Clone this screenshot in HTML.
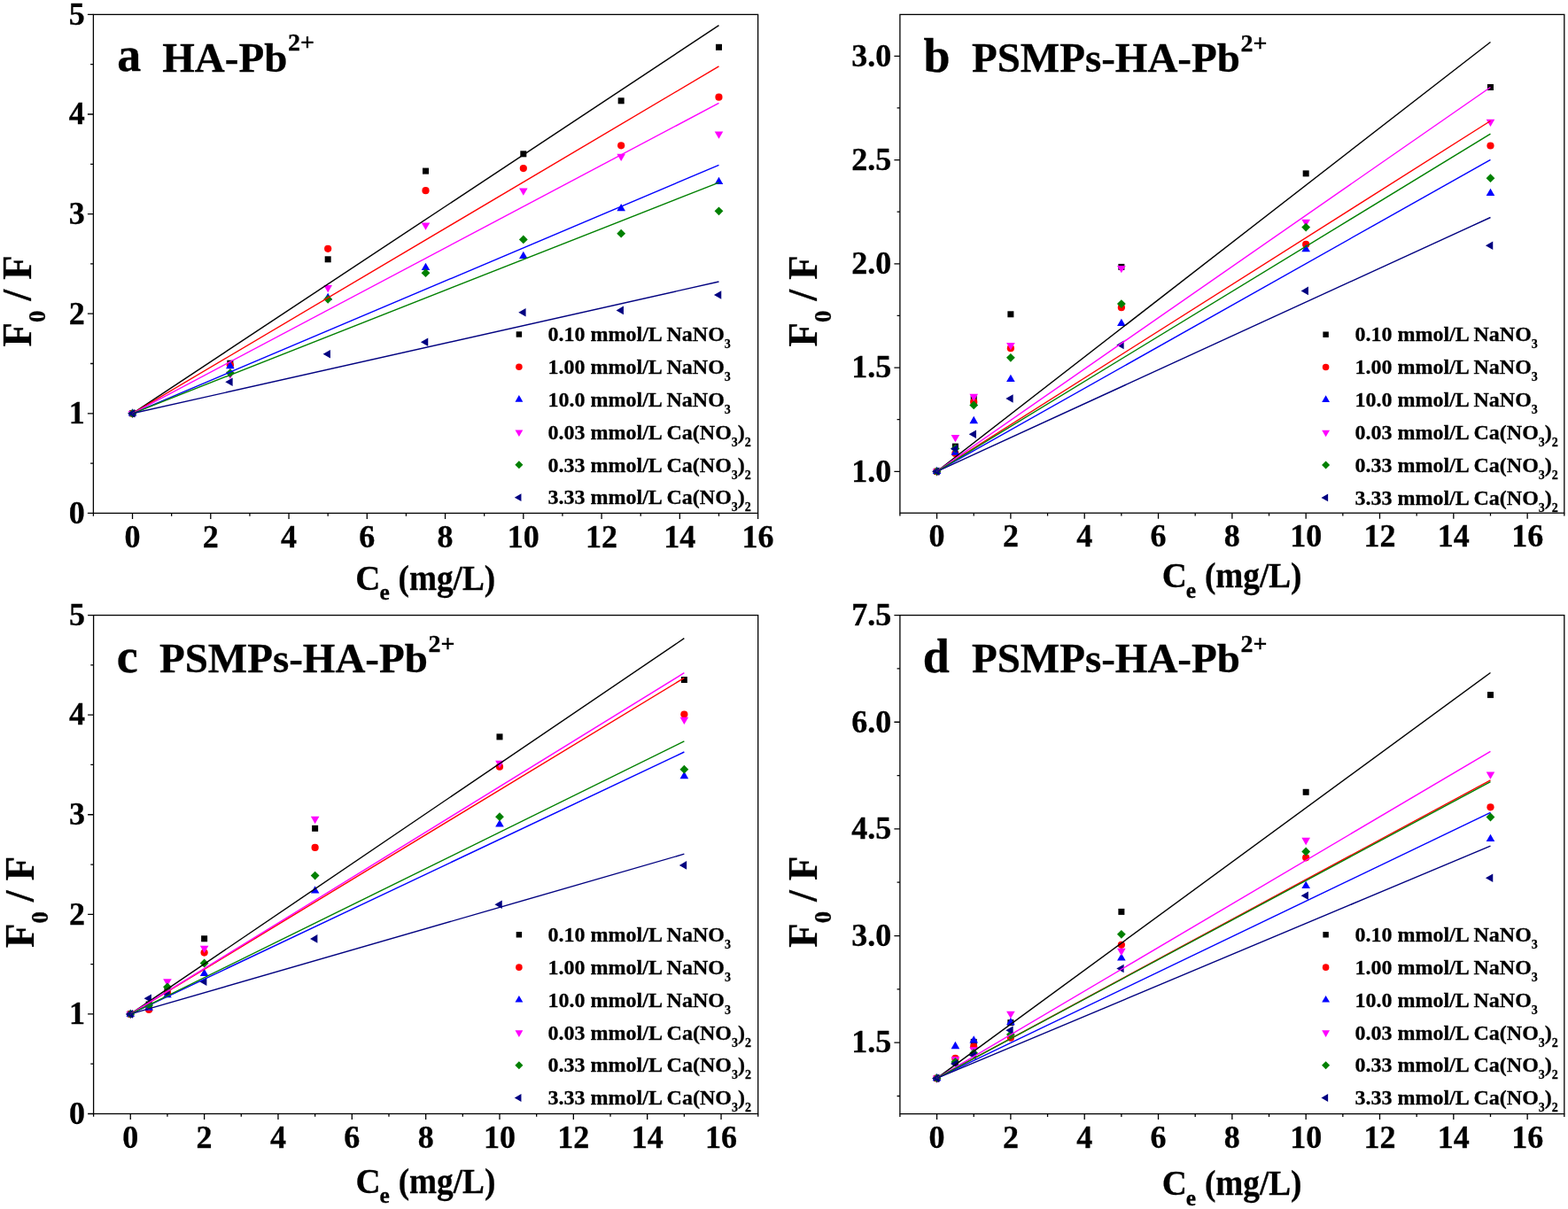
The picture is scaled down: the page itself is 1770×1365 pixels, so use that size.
<!DOCTYPE html>
<html><head><meta charset="utf-8"><title>F0/F vs Ce</title><style>
html,body{margin:0;padding:0;background:#fff;}
svg{display:block;}
text{font-family:"Liberation Serif", "Times New Roman", serif;font-weight:bold;fill:#000;stroke:#000;stroke-width:0.3px;}
.tk{font-size:36px;}
.xt{font-size:39px;}
.xs{font-size:25.5px;}
.yt{font-size:45px;}
.ys{font-size:26.5px;}
.pl{font-size:54px;}
.pt{font-size:47px;}
.sup{font-size:28px;}
.lg{font-size:24px;}
.ls{font-size:14px;}
</style></head>
<body><svg width="1770" height="1365" viewBox="0 0 1770 1365">
<rect width="1770" height="1365" fill="#fff"/>
<rect x="146.03" y="463.30" width="7.00" height="7.00" fill="#000000"/>
<rect x="256.35" y="406.70" width="7.00" height="7.00" fill="#000000"/>
<rect x="366.68" y="289.30" width="7.00" height="7.00" fill="#000000"/>
<rect x="477.00" y="189.60" width="7.00" height="7.00" fill="#000000"/>
<rect x="587.32" y="170.30" width="7.00" height="7.00" fill="#000000"/>
<rect x="697.65" y="110.30" width="7.00" height="7.00" fill="#000000"/>
<rect x="807.97" y="49.80" width="7.00" height="7.00" fill="#000000"/>
<circle cx="149.53" cy="466.80" r="4.10" fill="#FF0000"/>
<circle cx="259.85" cy="412.30" r="4.10" fill="#FF0000"/>
<circle cx="370.18" cy="280.80" r="4.10" fill="#FF0000"/>
<circle cx="480.50" cy="215.20" r="4.10" fill="#FF0000"/>
<circle cx="590.82" cy="190.10" r="4.10" fill="#FF0000"/>
<circle cx="701.15" cy="164.30" r="4.10" fill="#FF0000"/>
<circle cx="811.47" cy="109.70" r="4.10" fill="#FF0000"/>
<path d="M149.53 461.26L154.33 469.57L144.73 469.57Z" fill="#0000FF"/>
<path d="M259.85 407.86L264.65 416.17L255.05 416.17Z" fill="#0000FF"/>
<path d="M370.18 330.76L374.98 339.07L365.38 339.07Z" fill="#0000FF"/>
<path d="M480.50 296.76L485.30 305.07L475.70 305.07Z" fill="#0000FF"/>
<path d="M590.82 283.76L595.62 292.07L586.02 292.07Z" fill="#0000FF"/>
<path d="M701.15 229.96L705.95 238.27L696.35 238.27Z" fill="#0000FF"/>
<path d="M811.47 199.66L816.27 207.97L806.67 207.97Z" fill="#0000FF"/>
<path d="M149.53 472.34L154.33 464.03L144.73 464.03Z" fill="#FF00FF"/>
<path d="M259.85 428.04L264.65 419.73L255.05 419.73Z" fill="#FF00FF"/>
<path d="M370.18 330.34L374.98 322.03L365.38 322.03Z" fill="#FF00FF"/>
<path d="M480.50 259.74L485.30 251.43L475.70 251.43Z" fill="#FF00FF"/>
<path d="M590.82 220.84L595.62 212.53L586.02 212.53Z" fill="#FF00FF"/>
<path d="M701.15 181.94L705.95 173.63L696.35 173.63Z" fill="#FF00FF"/>
<path d="M811.47 156.74L816.27 148.43L806.67 148.43Z" fill="#FF00FF"/>
<path d="M149.53 461.90L154.43 466.80L149.53 471.70L144.63 466.80Z" fill="#008000"/>
<path d="M259.85 416.20L264.75 421.10L259.85 426.00L254.95 421.10Z" fill="#008000"/>
<path d="M370.18 332.90L375.08 337.80L370.18 342.70L365.28 337.80Z" fill="#008000"/>
<path d="M480.50 303.30L485.40 308.20L480.50 313.10L475.60 308.20Z" fill="#008000"/>
<path d="M590.82 265.50L595.72 270.40L590.82 275.30L585.92 270.40Z" fill="#008000"/>
<path d="M701.15 258.80L706.05 263.70L701.15 268.60L696.25 263.70Z" fill="#008000"/>
<path d="M811.47 233.40L816.37 238.30L811.47 243.20L806.57 238.30Z" fill="#008000"/>
<path d="M143.99 466.80L152.30 462.00L152.30 471.60Z" fill="#000080"/>
<path d="M254.31 431.30L262.62 426.50L262.62 436.10Z" fill="#000080"/>
<path d="M364.63 399.80L372.95 395.00L372.95 404.60Z" fill="#000080"/>
<path d="M474.96 386.30L483.27 381.50L483.27 391.10Z" fill="#000080"/>
<path d="M585.28 352.70L593.59 347.90L593.59 357.50Z" fill="#000080"/>
<path d="M695.60 350.40L703.92 345.60L703.92 355.20Z" fill="#000080"/>
<path d="M805.93 333.00L814.24 328.20L814.24 337.80Z" fill="#000080"/>
<line x1="149.53" y1="466.80" x2="811.47" y2="28.70" stroke="#000000" stroke-width="1.4"/>
<line x1="149.53" y1="466.80" x2="811.47" y2="74.90" stroke="#FF0000" stroke-width="1.4"/>
<line x1="149.53" y1="466.80" x2="811.47" y2="186.40" stroke="#0000FF" stroke-width="1.4"/>
<line x1="149.53" y1="466.80" x2="811.47" y2="116.40" stroke="#FF00FF" stroke-width="1.4"/>
<line x1="149.53" y1="466.80" x2="811.47" y2="206.10" stroke="#008000" stroke-width="1.4"/>
<line x1="149.53" y1="466.80" x2="811.47" y2="318.00" stroke="#000080" stroke-width="1.4"/>
<rect x="105.4" y="16.4" width="750.20" height="563.00" fill="none" stroke="#000" stroke-width="1.3"/>
<path d="M105.40 579.40v3.3M149.53 579.40v6.5M193.66 579.40v3.3M237.79 579.40v6.5M281.92 579.40v3.3M326.05 579.40v6.5M370.18 579.40v3.3M414.31 579.40v6.5M458.44 579.40v3.3M502.56 579.40v6.5M546.69 579.40v3.3M590.82 579.40v6.5M634.95 579.40v3.3M679.08 579.40v6.5M723.21 579.40v3.3M767.34 579.40v6.5M811.47 579.40v3.3M855.60 579.40v6.5M105.40 579.40h-6.5M105.40 466.80h-6.5M105.40 354.20h-6.5M105.40 241.60h-6.5M105.40 129.00h-6.5M105.40 16.40h-6.5M105.40 523.10h-3.3M105.40 410.50h-3.3M105.40 297.90h-3.3M105.40 185.30h-3.3M105.40 72.70h-3.3" stroke="#000" stroke-width="1.3" fill="none"/>
<text x="149.53" y="617.60" text-anchor="middle" class="tk">0</text>
<text x="237.79" y="617.60" text-anchor="middle" class="tk">2</text>
<text x="326.05" y="617.60" text-anchor="middle" class="tk">4</text>
<text x="414.31" y="617.60" text-anchor="middle" class="tk">6</text>
<text x="502.56" y="617.60" text-anchor="middle" class="tk">8</text>
<text x="590.82" y="617.60" text-anchor="middle" class="tk">10</text>
<text x="679.08" y="617.60" text-anchor="middle" class="tk">12</text>
<text x="767.34" y="617.60" text-anchor="middle" class="tk">14</text>
<text x="855.60" y="617.60" text-anchor="middle" class="tk">16</text>
<text x="95.80" y="590.70" text-anchor="end" class="tk">0</text>
<text x="95.80" y="478.10" text-anchor="end" class="tk">1</text>
<text x="95.80" y="365.50" text-anchor="end" class="tk">2</text>
<text x="95.80" y="252.90" text-anchor="end" class="tk">3</text>
<text x="95.80" y="140.30" text-anchor="end" class="tk">4</text>
<text x="95.80" y="27.70" text-anchor="end" class="tk">5</text>
<text x="401.30" y="666.1" class="xt">C</text>
<text x="428.40" y="676.8" class="xs">e</text>
<text x="449.55" y="666.1" class="xt" textLength="109.6" lengthAdjust="spacingAndGlyphs">(mg/L)</text>
<text transform="translate(34.7 391.6) rotate(-90) scale(1 1.035)" class="yt">F<tspan class="ys" dy="15.4">0</tspan><tspan dy="-15.4"> / F</tspan></text>
<text x="132.3" y="80.3" class="pl">a</text>
<text x="183.3" y="80.6" class="pt">HA-Pb<tspan class="sup" dx="0.6" dy="-23.3">2+</tspan></text>
<rect x="582.68" y="374.28" width="6.44" height="6.44" fill="#000000"/>
<text x="618.5" y="385.20" class="lg">0.10 mmol/L NaNO<tspan class="ls" dy="8">3</tspan></text>
<circle cx="585.90" cy="414.34" r="3.77" fill="#FF0000"/>
<text x="618.5" y="422.04" class="lg">1.00 mmol/L NaNO<tspan class="ls" dy="8">3</tspan></text>
<path d="M585.90 446.08L590.32 453.73L581.48 453.73Z" fill="#0000FF"/>
<text x="618.5" y="458.88" class="lg">10.0 mmol/L NaNO<tspan class="ls" dy="8">3</tspan></text>
<path d="M585.90 493.12L590.32 485.47L581.48 485.47Z" fill="#FF00FF"/>
<text x="618.5" y="495.72" class="lg">0.03 mmol/L Ca(NO<tspan class="ls" dy="8">3</tspan><tspan dy="-8">)</tspan><tspan class="ls" dy="8">2</tspan></text>
<path d="M585.90 520.35L590.41 524.86L585.90 529.37L581.39 524.86Z" fill="#008000"/>
<text x="618.5" y="532.56" class="lg">0.33 mmol/L Ca(NO<tspan class="ls" dy="8">3</tspan><tspan dy="-8">)</tspan><tspan class="ls" dy="8">2</tspan></text>
<path d="M580.80 561.70L588.45 557.28L588.45 566.12Z" fill="#000080"/>
<text x="618.5" y="569.40" class="lg">3.33 mmol/L Ca(NO<tspan class="ls" dy="8">3</tspan><tspan dy="-8">)</tspan><tspan class="ls" dy="8">2</tspan></text>
<rect x="1054.06" y="528.80" width="7.00" height="7.00" fill="#000000"/>
<rect x="1074.89" y="500.60" width="7.00" height="7.00" fill="#000000"/>
<rect x="1095.72" y="446.90" width="7.00" height="7.00" fill="#000000"/>
<rect x="1137.38" y="351.30" width="7.00" height="7.00" fill="#000000"/>
<rect x="1262.37" y="297.90" width="7.00" height="7.00" fill="#000000"/>
<rect x="1470.67" y="192.40" width="7.00" height="7.00" fill="#000000"/>
<rect x="1678.98" y="95.00" width="7.00" height="7.00" fill="#000000"/>
<circle cx="1057.56" cy="532.30" r="4.10" fill="#FF0000"/>
<circle cx="1078.39" cy="512.00" r="4.10" fill="#FF0000"/>
<circle cx="1099.22" cy="453.90" r="4.10" fill="#FF0000"/>
<circle cx="1140.88" cy="393.20" r="4.10" fill="#FF0000"/>
<circle cx="1265.87" cy="347.20" r="4.10" fill="#FF0000"/>
<circle cx="1474.17" cy="275.90" r="4.10" fill="#FF0000"/>
<circle cx="1682.48" cy="164.50" r="4.10" fill="#FF0000"/>
<path d="M1057.56 526.76L1062.36 535.07L1052.76 535.07Z" fill="#0000FF"/>
<path d="M1078.39 505.46L1083.19 513.77L1073.59 513.77Z" fill="#0000FF"/>
<path d="M1099.22 469.86L1104.02 478.17L1094.42 478.17Z" fill="#0000FF"/>
<path d="M1140.88 422.66L1145.68 430.97L1136.08 430.97Z" fill="#0000FF"/>
<path d="M1265.87 359.66L1270.67 367.97L1261.07 367.97Z" fill="#0000FF"/>
<path d="M1474.17 275.96L1478.97 284.27L1469.37 284.27Z" fill="#0000FF"/>
<path d="M1682.48 212.76L1687.28 221.07L1677.68 221.07Z" fill="#0000FF"/>
<path d="M1057.56 537.84L1062.36 529.53L1052.76 529.53Z" fill="#FF00FF"/>
<path d="M1078.39 499.24L1083.19 490.93L1073.59 490.93Z" fill="#FF00FF"/>
<path d="M1099.22 453.14L1104.02 444.83L1094.42 444.83Z" fill="#FF00FF"/>
<path d="M1140.88 395.34L1145.68 387.03L1136.08 387.03Z" fill="#FF00FF"/>
<path d="M1265.87 308.24L1270.67 299.93L1261.07 299.93Z" fill="#FF00FF"/>
<path d="M1474.17 256.04L1478.97 247.73L1469.37 247.73Z" fill="#FF00FF"/>
<path d="M1682.48 143.04L1687.28 134.73L1677.68 134.73Z" fill="#FF00FF"/>
<path d="M1057.56 527.40L1062.46 532.30L1057.56 537.20L1052.66 532.30Z" fill="#008000"/>
<path d="M1078.39 501.50L1083.29 506.40L1078.39 511.30L1073.49 506.40Z" fill="#008000"/>
<path d="M1099.22 452.50L1104.12 457.40L1099.22 462.30L1094.32 457.40Z" fill="#008000"/>
<path d="M1140.88 398.90L1145.78 403.80L1140.88 408.70L1135.98 403.80Z" fill="#008000"/>
<path d="M1265.87 338.20L1270.77 343.10L1265.87 348.00L1260.97 343.10Z" fill="#008000"/>
<path d="M1474.17 251.70L1479.07 256.60L1474.17 261.50L1469.27 256.60Z" fill="#008000"/>
<path d="M1682.48 196.30L1687.38 201.20L1682.48 206.10L1677.58 201.20Z" fill="#008000"/>
<path d="M1052.02 532.30L1060.33 527.50L1060.33 537.10Z" fill="#000080"/>
<path d="M1072.85 506.70L1081.16 501.90L1081.16 511.50Z" fill="#000080"/>
<path d="M1093.68 490.20L1101.99 485.40L1101.99 495.00Z" fill="#000080"/>
<path d="M1135.34 450.00L1143.65 445.20L1143.65 454.80Z" fill="#000080"/>
<path d="M1260.32 389.40L1268.64 384.60L1268.64 394.20Z" fill="#000080"/>
<path d="M1468.63 328.40L1476.94 323.60L1476.94 333.20Z" fill="#000080"/>
<path d="M1676.94 277.30L1685.25 272.50L1685.25 282.10Z" fill="#000080"/>
<line x1="1057.56" y1="532.30" x2="1682.48" y2="47.50" stroke="#000000" stroke-width="1.4"/>
<line x1="1057.56" y1="532.30" x2="1682.48" y2="136.50" stroke="#FF0000" stroke-width="1.4"/>
<line x1="1057.56" y1="532.30" x2="1682.48" y2="180.30" stroke="#0000FF" stroke-width="1.4"/>
<line x1="1057.56" y1="532.30" x2="1682.48" y2="98.50" stroke="#FF00FF" stroke-width="1.4"/>
<line x1="1057.56" y1="532.30" x2="1682.48" y2="151.20" stroke="#008000" stroke-width="1.4"/>
<line x1="1057.56" y1="532.30" x2="1682.48" y2="245.50" stroke="#000080" stroke-width="1.4"/>
<rect x="1015.9" y="16.4" width="749.90" height="562.80" fill="none" stroke="#000" stroke-width="1.3"/>
<path d="M1015.90 579.20v3.3M1057.56 579.20v6.5M1099.22 579.20v3.3M1140.88 579.20v6.5M1182.54 579.20v3.3M1224.21 579.20v6.5M1265.87 579.20v3.3M1307.53 579.20v6.5M1349.19 579.20v3.3M1390.85 579.20v6.5M1432.51 579.20v3.3M1474.17 579.20v6.5M1515.83 579.20v3.3M1557.49 579.20v6.5M1599.16 579.20v3.3M1640.82 579.20v6.5M1682.48 579.20v3.3M1724.14 579.20v6.5M1765.80 579.20v3.3M1015.90 532.30h-6.5M1015.90 415.05h-6.5M1015.90 297.80h-6.5M1015.90 180.55h-6.5M1015.90 63.30h-6.5M1015.90 473.68h-3.3M1015.90 356.43h-3.3M1015.90 239.18h-3.3M1015.90 121.93h-3.3" stroke="#000" stroke-width="1.3" fill="none"/>
<text x="1057.56" y="617.40" text-anchor="middle" class="tk">0</text>
<text x="1140.88" y="617.40" text-anchor="middle" class="tk">2</text>
<text x="1224.21" y="617.40" text-anchor="middle" class="tk">4</text>
<text x="1307.53" y="617.40" text-anchor="middle" class="tk">6</text>
<text x="1390.85" y="617.40" text-anchor="middle" class="tk">8</text>
<text x="1474.17" y="617.40" text-anchor="middle" class="tk">10</text>
<text x="1557.49" y="617.40" text-anchor="middle" class="tk">12</text>
<text x="1640.82" y="617.40" text-anchor="middle" class="tk">14</text>
<text x="1724.14" y="617.40" text-anchor="middle" class="tk">16</text>
<text x="1006.30" y="543.60" text-anchor="end" class="tk">1.0</text>
<text x="1006.30" y="426.35" text-anchor="end" class="tk">1.5</text>
<text x="1006.30" y="309.10" text-anchor="end" class="tk">2.0</text>
<text x="1006.30" y="191.85" text-anchor="end" class="tk">2.5</text>
<text x="1006.30" y="74.60" text-anchor="end" class="tk">3.0</text>
<text x="1311.65" y="663.3" class="xt">C</text>
<text x="1338.75" y="674.6" class="xs">e</text>
<text x="1359.90" y="663.3" class="xt" textLength="109.6" lengthAdjust="spacingAndGlyphs">(mg/L)</text>
<text transform="translate(921.6 391.5) rotate(-90) scale(1 1.035)" class="yt">F<tspan class="ys" dy="15.4">0</tspan><tspan dy="-15.4"> / F</tspan></text>
<text x="1042.4" y="80.8" class="pl">b</text>
<text x="1097.0" y="80.8" class="pt">PSMPs-HA-Pb<tspan class="sup" dx="0.6" dy="-23.3">2+</tspan></text>
<rect x="1493.38" y="374.48" width="6.44" height="6.44" fill="#000000"/>
<text x="1529.5" y="385.40" class="lg">0.10 mmol/L NaNO<tspan class="ls" dy="8">3</tspan></text>
<circle cx="1496.60" cy="414.54" r="3.77" fill="#FF0000"/>
<text x="1529.5" y="422.24" class="lg">1.00 mmol/L NaNO<tspan class="ls" dy="8">3</tspan></text>
<path d="M1496.60 446.28L1501.02 453.93L1492.18 453.93Z" fill="#0000FF"/>
<text x="1529.5" y="459.08" class="lg">10.0 mmol/L NaNO<tspan class="ls" dy="8">3</tspan></text>
<path d="M1496.60 493.32L1501.02 485.67L1492.18 485.67Z" fill="#FF00FF"/>
<text x="1529.5" y="495.92" class="lg">0.03 mmol/L Ca(NO<tspan class="ls" dy="8">3</tspan><tspan dy="-8">)</tspan><tspan class="ls" dy="8">2</tspan></text>
<path d="M1496.60 520.55L1501.11 525.06L1496.60 529.57L1492.09 525.06Z" fill="#008000"/>
<text x="1529.5" y="532.76" class="lg">0.33 mmol/L Ca(NO<tspan class="ls" dy="8">3</tspan><tspan dy="-8">)</tspan><tspan class="ls" dy="8">2</tspan></text>
<path d="M1491.50 561.90L1499.15 557.48L1499.15 566.32Z" fill="#000080"/>
<text x="1529.5" y="569.60" class="lg">3.33 mmol/L Ca(NO<tspan class="ls" dy="8">3</tspan><tspan dy="-8">)</tspan><tspan class="ls" dy="8">2</tspan></text>
<rect x="143.77" y="1141.42" width="7.00" height="7.00" fill="#000000"/>
<rect x="164.61" y="1130.50" width="7.00" height="7.00" fill="#000000"/>
<rect x="185.44" y="1115.50" width="7.00" height="7.00" fill="#000000"/>
<rect x="227.12" y="1056.30" width="7.00" height="7.00" fill="#000000"/>
<rect x="352.13" y="931.80" width="7.00" height="7.00" fill="#000000"/>
<rect x="560.49" y="828.40" width="7.00" height="7.00" fill="#000000"/>
<rect x="768.86" y="764.00" width="7.00" height="7.00" fill="#000000"/>
<circle cx="147.27" cy="1144.92" r="4.10" fill="#FF0000"/>
<circle cx="168.11" cy="1139.90" r="4.10" fill="#FF0000"/>
<circle cx="188.94" cy="1121.00" r="4.10" fill="#FF0000"/>
<circle cx="230.62" cy="1075.60" r="4.10" fill="#FF0000"/>
<circle cx="355.63" cy="956.90" r="4.10" fill="#FF0000"/>
<circle cx="563.99" cy="865.70" r="4.10" fill="#FF0000"/>
<circle cx="772.36" cy="806.50" r="4.10" fill="#FF0000"/>
<path d="M147.27 1139.38L152.07 1147.69L142.47 1147.69Z" fill="#0000FF"/>
<path d="M168.11 1132.56L172.91 1140.87L163.31 1140.87Z" fill="#0000FF"/>
<path d="M188.94 1117.96L193.74 1126.27L184.14 1126.27Z" fill="#0000FF"/>
<path d="M230.62 1093.66L235.42 1101.97L225.82 1101.97Z" fill="#0000FF"/>
<path d="M355.63 1000.16L360.43 1008.47L350.83 1008.47Z" fill="#0000FF"/>
<path d="M563.99 925.16L568.79 933.47L559.19 933.47Z" fill="#0000FF"/>
<path d="M772.36 870.86L777.16 879.17L767.56 879.17Z" fill="#0000FF"/>
<path d="M147.27 1150.46L152.07 1142.15L142.47 1142.15Z" fill="#FF00FF"/>
<path d="M168.11 1141.04L172.91 1132.73L163.31 1132.73Z" fill="#FF00FF"/>
<path d="M188.94 1113.44L193.74 1105.13L184.14 1105.13Z" fill="#FF00FF"/>
<path d="M230.62 1075.94L235.42 1067.63L225.82 1067.63Z" fill="#FF00FF"/>
<path d="M355.63 930.14L360.43 921.83L350.83 921.83Z" fill="#FF00FF"/>
<path d="M563.99 867.14L568.79 858.83L559.19 858.83Z" fill="#FF00FF"/>
<path d="M772.36 818.04L777.16 809.73L767.56 809.73Z" fill="#FF00FF"/>
<path d="M147.27 1140.02L152.17 1144.92L147.27 1149.82L142.37 1144.92Z" fill="#008000"/>
<path d="M168.11 1130.10L173.01 1135.00L168.11 1139.90L163.21 1135.00Z" fill="#008000"/>
<path d="M188.94 1109.40L193.84 1114.30L188.94 1119.20L184.04 1114.30Z" fill="#008000"/>
<path d="M230.62 1082.60L235.52 1087.50L230.62 1092.40L225.72 1087.50Z" fill="#008000"/>
<path d="M355.63 983.70L360.53 988.60L355.63 993.50L350.73 988.60Z" fill="#008000"/>
<path d="M563.99 917.30L568.89 922.20L563.99 927.10L559.09 922.20Z" fill="#008000"/>
<path d="M772.36 863.80L777.26 868.70L772.36 873.60L767.46 868.70Z" fill="#008000"/>
<path d="M141.73 1144.92L150.04 1140.12L150.04 1149.72Z" fill="#000080"/>
<path d="M162.57 1127.20L170.88 1122.40L170.88 1132.00Z" fill="#000080"/>
<path d="M183.40 1121.50L191.72 1116.70L191.72 1126.30Z" fill="#000080"/>
<path d="M225.07 1108.20L233.39 1103.40L233.39 1113.00Z" fill="#000080"/>
<path d="M350.09 1059.90L358.40 1055.10L358.40 1064.70Z" fill="#000080"/>
<path d="M558.45 1021.20L566.77 1016.40L566.77 1026.00Z" fill="#000080"/>
<path d="M766.81 976.90L775.13 972.10L775.13 981.70Z" fill="#000080"/>
<line x1="147.27" y1="1144.92" x2="772.36" y2="720.70" stroke="#000000" stroke-width="1.4"/>
<line x1="147.27" y1="1144.92" x2="772.36" y2="765.40" stroke="#FF0000" stroke-width="1.4"/>
<line x1="147.27" y1="1144.92" x2="772.36" y2="849.00" stroke="#0000FF" stroke-width="1.4"/>
<line x1="147.27" y1="1144.92" x2="772.36" y2="759.70" stroke="#FF00FF" stroke-width="1.4"/>
<line x1="147.27" y1="1144.92" x2="772.36" y2="836.90" stroke="#008000" stroke-width="1.4"/>
<line x1="147.27" y1="1144.92" x2="772.36" y2="964.20" stroke="#000080" stroke-width="1.4"/>
<rect x="105.6" y="694.6" width="750.10" height="562.90" fill="none" stroke="#000" stroke-width="1.3"/>
<path d="M105.60 1257.50v3.3M147.27 1257.50v6.5M188.94 1257.50v3.3M230.62 1257.50v6.5M272.29 1257.50v3.3M313.96 1257.50v6.5M355.63 1257.50v3.3M397.31 1257.50v6.5M438.98 1257.50v3.3M480.65 1257.50v6.5M522.32 1257.50v3.3M563.99 1257.50v6.5M605.67 1257.50v3.3M647.34 1257.50v6.5M689.01 1257.50v3.3M730.68 1257.50v6.5M772.36 1257.50v3.3M814.03 1257.50v6.5M855.70 1257.50v3.3M105.60 1257.50h-6.5M105.60 1144.92h-6.5M105.60 1032.34h-6.5M105.60 919.76h-6.5M105.60 807.18h-6.5M105.60 694.60h-6.5M105.60 1201.21h-3.3M105.60 1088.63h-3.3M105.60 976.05h-3.3M105.60 863.47h-3.3M105.60 750.89h-3.3" stroke="#000" stroke-width="1.3" fill="none"/>
<text x="147.27" y="1295.70" text-anchor="middle" class="tk">0</text>
<text x="230.62" y="1295.70" text-anchor="middle" class="tk">2</text>
<text x="313.96" y="1295.70" text-anchor="middle" class="tk">4</text>
<text x="397.31" y="1295.70" text-anchor="middle" class="tk">6</text>
<text x="480.65" y="1295.70" text-anchor="middle" class="tk">8</text>
<text x="563.99" y="1295.70" text-anchor="middle" class="tk">10</text>
<text x="647.34" y="1295.70" text-anchor="middle" class="tk">12</text>
<text x="730.68" y="1295.70" text-anchor="middle" class="tk">14</text>
<text x="814.03" y="1295.70" text-anchor="middle" class="tk">16</text>
<text x="96.00" y="1268.80" text-anchor="end" class="tk">0</text>
<text x="96.00" y="1156.22" text-anchor="end" class="tk">1</text>
<text x="96.00" y="1043.64" text-anchor="end" class="tk">2</text>
<text x="96.00" y="931.06" text-anchor="end" class="tk">3</text>
<text x="96.00" y="818.48" text-anchor="end" class="tk">4</text>
<text x="96.00" y="705.90" text-anchor="end" class="tk">5</text>
<text x="401.45" y="1347.1" class="xt">C</text>
<text x="428.55" y="1358.1" class="xs">e</text>
<text x="449.70" y="1347.1" class="xt" textLength="109.6" lengthAdjust="spacingAndGlyphs">(mg/L)</text>
<text transform="translate(38.0 1069.9) rotate(-90) scale(1 1.035)" class="yt">F<tspan class="ys" dy="15.4">0</tspan><tspan dy="-15.4"> / F</tspan></text>
<text x="131.75" y="759.2" class="pl">c</text>
<text x="180.0" y="758.8" class="pt">PSMPs-HA-Pb<tspan class="sup" dx="0.6" dy="-23.3">2+</tspan></text>
<rect x="582.68" y="1052.08" width="6.44" height="6.44" fill="#000000"/>
<text x="618.6" y="1063.00" class="lg">0.10 mmol/L NaNO<tspan class="ls" dy="8">3</tspan></text>
<circle cx="585.90" cy="1092.14" r="3.77" fill="#FF0000"/>
<text x="618.6" y="1099.84" class="lg">1.00 mmol/L NaNO<tspan class="ls" dy="8">3</tspan></text>
<path d="M585.90 1123.88L590.32 1131.53L581.48 1131.53Z" fill="#0000FF"/>
<text x="618.6" y="1136.68" class="lg">10.0 mmol/L NaNO<tspan class="ls" dy="8">3</tspan></text>
<path d="M585.90 1170.92L590.32 1163.27L581.48 1163.27Z" fill="#FF00FF"/>
<text x="618.6" y="1173.52" class="lg">0.03 mmol/L Ca(NO<tspan class="ls" dy="8">3</tspan><tspan dy="-8">)</tspan><tspan class="ls" dy="8">2</tspan></text>
<path d="M585.90 1198.15L590.41 1202.66L585.90 1207.17L581.39 1202.66Z" fill="#008000"/>
<text x="618.6" y="1210.36" class="lg">0.33 mmol/L Ca(NO<tspan class="ls" dy="8">3</tspan><tspan dy="-8">)</tspan><tspan class="ls" dy="8">2</tspan></text>
<path d="M580.80 1239.50L588.45 1235.08L588.45 1243.92Z" fill="#000080"/>
<text x="618.6" y="1247.20" class="lg">3.33 mmol/L Ca(NO<tspan class="ls" dy="8">3</tspan><tspan dy="-8">)</tspan><tspan class="ls" dy="8">2</tspan></text>
<rect x="1054.06" y="1213.89" width="7.00" height="7.00" fill="#000000"/>
<rect x="1074.89" y="1195.50" width="7.00" height="7.00" fill="#000000"/>
<rect x="1095.72" y="1172.90" width="7.00" height="7.00" fill="#000000"/>
<rect x="1137.38" y="1151.10" width="7.00" height="7.00" fill="#000000"/>
<rect x="1262.37" y="1025.90" width="7.00" height="7.00" fill="#000000"/>
<rect x="1470.67" y="890.80" width="7.00" height="7.00" fill="#000000"/>
<rect x="1678.98" y="781.10" width="7.00" height="7.00" fill="#000000"/>
<circle cx="1057.56" cy="1217.39" r="4.10" fill="#FF0000"/>
<circle cx="1078.39" cy="1194.90" r="4.10" fill="#FF0000"/>
<circle cx="1099.22" cy="1181.70" r="4.10" fill="#FF0000"/>
<circle cx="1140.88" cy="1171.70" r="4.10" fill="#FF0000"/>
<circle cx="1265.87" cy="1066.80" r="4.10" fill="#FF0000"/>
<circle cx="1474.17" cy="968.30" r="4.10" fill="#FF0000"/>
<circle cx="1682.48" cy="911.30" r="4.10" fill="#FF0000"/>
<path d="M1057.56 1211.84L1062.36 1220.16L1052.76 1220.16Z" fill="#0000FF"/>
<path d="M1078.39 1175.86L1083.19 1184.17L1073.59 1184.17Z" fill="#0000FF"/>
<path d="M1099.22 1169.26L1104.02 1177.57L1094.42 1177.57Z" fill="#0000FF"/>
<path d="M1140.88 1148.86L1145.68 1157.17L1136.08 1157.17Z" fill="#0000FF"/>
<path d="M1265.87 1076.26L1270.67 1084.57L1261.07 1084.57Z" fill="#0000FF"/>
<path d="M1474.17 994.76L1478.97 1003.07L1469.37 1003.07Z" fill="#0000FF"/>
<path d="M1682.48 941.76L1687.28 950.07L1677.68 950.07Z" fill="#0000FF"/>
<path d="M1057.56 1222.93L1062.36 1214.61L1052.76 1214.61Z" fill="#FF00FF"/>
<path d="M1078.39 1201.34L1083.19 1193.03L1073.59 1193.03Z" fill="#FF00FF"/>
<path d="M1099.22 1190.64L1104.02 1182.33L1094.42 1182.33Z" fill="#FF00FF"/>
<path d="M1140.88 1149.94L1145.68 1141.63L1136.08 1141.63Z" fill="#FF00FF"/>
<path d="M1265.87 1079.14L1270.67 1070.83L1261.07 1070.83Z" fill="#FF00FF"/>
<path d="M1474.17 954.14L1478.97 945.83L1469.37 945.83Z" fill="#FF00FF"/>
<path d="M1682.48 879.74L1687.28 871.43L1677.68 871.43Z" fill="#FF00FF"/>
<path d="M1057.56 1212.49L1062.46 1217.39L1057.56 1222.29L1052.66 1217.39Z" fill="#008000"/>
<path d="M1078.39 1194.00L1083.29 1198.90L1078.39 1203.80L1073.49 1198.90Z" fill="#008000"/>
<path d="M1099.22 1184.10L1104.12 1189.00L1099.22 1193.90L1094.32 1189.00Z" fill="#008000"/>
<path d="M1140.88 1163.10L1145.78 1168.00L1140.88 1172.90L1135.98 1168.00Z" fill="#008000"/>
<path d="M1265.87 1049.90L1270.77 1054.80L1265.87 1059.70L1260.97 1054.80Z" fill="#008000"/>
<path d="M1474.17 956.60L1479.07 961.50L1474.17 966.40L1469.27 961.50Z" fill="#008000"/>
<path d="M1682.48 917.60L1687.38 922.50L1682.48 927.40L1677.58 922.50Z" fill="#008000"/>
<path d="M1052.02 1217.39L1060.33 1212.59L1060.33 1222.19Z" fill="#000080"/>
<path d="M1072.85 1201.00L1081.16 1196.20L1081.16 1205.80Z" fill="#000080"/>
<path d="M1093.68 1191.50L1101.99 1186.70L1101.99 1196.30Z" fill="#000080"/>
<path d="M1135.34 1163.30L1143.65 1158.50L1143.65 1168.10Z" fill="#000080"/>
<path d="M1260.32 1093.50L1268.64 1088.70L1268.64 1098.30Z" fill="#000080"/>
<path d="M1468.63 1011.30L1476.94 1006.50L1476.94 1016.10Z" fill="#000080"/>
<path d="M1676.94 991.20L1685.25 986.40L1685.25 996.00Z" fill="#000080"/>
<line x1="1057.56" y1="1217.39" x2="1682.48" y2="759.50" stroke="#000000" stroke-width="1.4"/>
<line x1="1057.56" y1="1217.39" x2="1682.48" y2="880.90" stroke="#FF0000" stroke-width="1.4"/>
<line x1="1057.56" y1="1217.39" x2="1682.48" y2="917.40" stroke="#0000FF" stroke-width="1.4"/>
<line x1="1057.56" y1="1217.39" x2="1682.48" y2="848.30" stroke="#FF00FF" stroke-width="1.4"/>
<line x1="1057.56" y1="1217.39" x2="1682.48" y2="882.60" stroke="#008000" stroke-width="1.4"/>
<line x1="1057.56" y1="1217.39" x2="1682.48" y2="955.10" stroke="#000080" stroke-width="1.4"/>
<rect x="1015.9" y="694.6" width="749.90" height="563.00" fill="none" stroke="#000" stroke-width="1.3"/>
<path d="M1015.90 1257.60v3.3M1057.56 1257.60v6.5M1099.22 1257.60v3.3M1140.88 1257.60v6.5M1182.54 1257.60v3.3M1224.21 1257.60v6.5M1265.87 1257.60v3.3M1307.53 1257.60v6.5M1349.19 1257.60v3.3M1390.85 1257.60v6.5M1432.51 1257.60v3.3M1474.17 1257.60v6.5M1515.83 1257.60v3.3M1557.49 1257.60v6.5M1599.16 1257.60v3.3M1640.82 1257.60v6.5M1682.48 1257.60v3.3M1724.14 1257.60v6.5M1765.80 1257.60v3.3M1015.90 1177.17h-6.5M1015.90 1056.53h-6.5M1015.90 935.89h-6.5M1015.90 815.24h-6.5M1015.90 694.60h-6.5M1015.90 1237.49h-3.3M1015.90 1116.85h-3.3M1015.90 996.21h-3.3M1015.90 875.56h-3.3M1015.90 754.92h-3.3" stroke="#000" stroke-width="1.3" fill="none"/>
<text x="1057.56" y="1295.80" text-anchor="middle" class="tk">0</text>
<text x="1140.88" y="1295.80" text-anchor="middle" class="tk">2</text>
<text x="1224.21" y="1295.80" text-anchor="middle" class="tk">4</text>
<text x="1307.53" y="1295.80" text-anchor="middle" class="tk">6</text>
<text x="1390.85" y="1295.80" text-anchor="middle" class="tk">8</text>
<text x="1474.17" y="1295.80" text-anchor="middle" class="tk">10</text>
<text x="1557.49" y="1295.80" text-anchor="middle" class="tk">12</text>
<text x="1640.82" y="1295.80" text-anchor="middle" class="tk">14</text>
<text x="1724.14" y="1295.80" text-anchor="middle" class="tk">16</text>
<text x="1006.30" y="1188.47" text-anchor="end" class="tk">1.5</text>
<text x="1006.30" y="1067.83" text-anchor="end" class="tk">3.0</text>
<text x="1006.30" y="947.19" text-anchor="end" class="tk">4.5</text>
<text x="1006.30" y="826.54" text-anchor="end" class="tk">6.0</text>
<text x="1006.30" y="705.90" text-anchor="end" class="tk">7.5</text>
<text x="1311.65" y="1349.3" class="xt">C</text>
<text x="1338.75" y="1360.6" class="xs">e</text>
<text x="1359.90" y="1349.3" class="xt" textLength="109.6" lengthAdjust="spacingAndGlyphs">(mg/L)</text>
<text transform="translate(921.6 1069.7) rotate(-90) scale(1 1.035)" class="yt">F<tspan class="ys" dy="15.4">0</tspan><tspan dy="-15.4"> / F</tspan></text>
<text x="1041.8" y="759.2" class="pl">d</text>
<text x="1097.0" y="758.8" class="pt">PSMPs-HA-Pb<tspan class="sup" dx="0.6" dy="-23.3">2+</tspan></text>
<rect x="1493.38" y="1052.08" width="6.44" height="6.44" fill="#000000"/>
<text x="1529.5" y="1063.00" class="lg">0.10 mmol/L NaNO<tspan class="ls" dy="8">3</tspan></text>
<circle cx="1496.60" cy="1092.14" r="3.77" fill="#FF0000"/>
<text x="1529.5" y="1099.84" class="lg">1.00 mmol/L NaNO<tspan class="ls" dy="8">3</tspan></text>
<path d="M1496.60 1123.88L1501.02 1131.53L1492.18 1131.53Z" fill="#0000FF"/>
<text x="1529.5" y="1136.68" class="lg">10.0 mmol/L NaNO<tspan class="ls" dy="8">3</tspan></text>
<path d="M1496.60 1170.92L1501.02 1163.27L1492.18 1163.27Z" fill="#FF00FF"/>
<text x="1529.5" y="1173.52" class="lg">0.03 mmol/L Ca(NO<tspan class="ls" dy="8">3</tspan><tspan dy="-8">)</tspan><tspan class="ls" dy="8">2</tspan></text>
<path d="M1496.60 1198.15L1501.11 1202.66L1496.60 1207.17L1492.09 1202.66Z" fill="#008000"/>
<text x="1529.5" y="1210.36" class="lg">0.33 mmol/L Ca(NO<tspan class="ls" dy="8">3</tspan><tspan dy="-8">)</tspan><tspan class="ls" dy="8">2</tspan></text>
<path d="M1491.50 1239.50L1499.15 1235.08L1499.15 1243.92Z" fill="#000080"/>
<text x="1529.5" y="1247.20" class="lg">3.33 mmol/L Ca(NO<tspan class="ls" dy="8">3</tspan><tspan dy="-8">)</tspan><tspan class="ls" dy="8">2</tspan></text>
</svg></body></html>
